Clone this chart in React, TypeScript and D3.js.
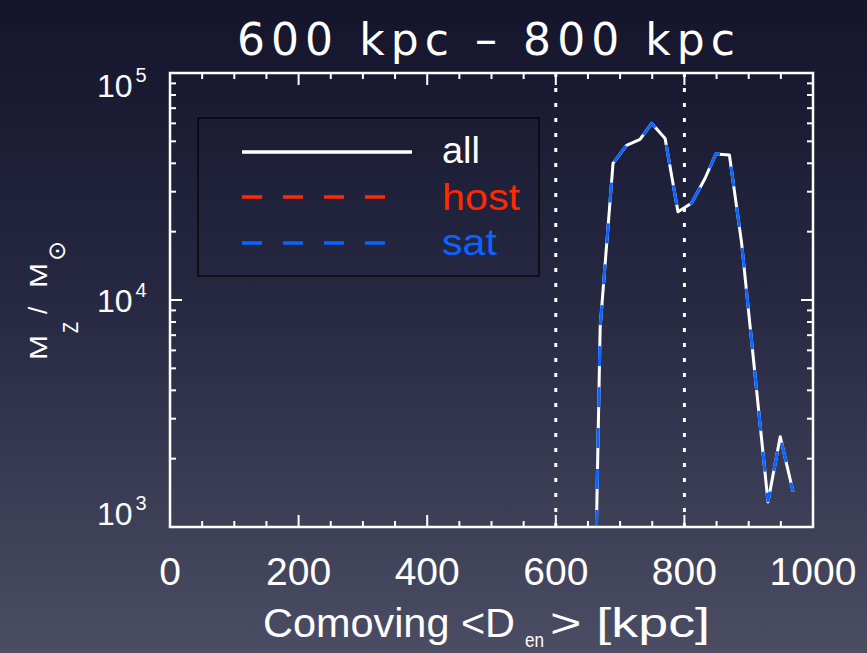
import React from "react";
import * as d3 from "d3";

const W = 867;
const H = 653;

// data
const distances = [650, 669, 689, 710, 731, 749, 770, 790, 811, 832, 849, 870, 889, 930, 949, 969];
const allValues = [10, 7600, 40000, 48000, 51000, 60000, 51500, 24500, 26700, 34300, 44000, 43500, 17800, 1290, 2500, 1430];
const satValues = [10, 7600, 40000, 48000, 51000, 60000, 51500, 24500, 26700, 34300, 44000, 43500, 17800, 1290, 2500, 1430];
const markerLines = [600, 800];
const xTickLabels = [0, 200, 400, 600, 800, 1000];
const yDecades = [3, 4, 5];
const legendLabels = ["all", "host", "sat"];
const legendColors = ["#ffffff", "#ff2a00", "#0a64ff"];
const titleText = "600 kpc \u2013 800 kpc";

const FONT = "'Liberation Sans', Arial, sans-serif";

export default function App() {
  const x = d3.scaleLinear().domain([0, 1000]).range([170, 813]);
  const y = d3.scaleLog().domain([1e3, 1e5]).range([527, 73]);
  const [x0, x1] = x.range();
  const [yb, yt] = y.range();

  const allPts = distances.map((d, i) => ({ x: d, v: allValues[i] }));
  const satPts = distances.map((d, i) => ({ x: d, v: satValues[i] }));
  const line = d3
    .line<{ x: number; v: number }>()
    .x((d) => x(d.x))
    .y((d) => y(d.v));

  const xTicks = d3.range(0, 1001, 50);
  const yTicks: { v: number; major: boolean }[] = [];
  yDecades.forEach((e, i) => {
    const base = Math.pow(10, e);
    yTicks.push({ v: base, major: true });
    if (i < yDecades.length - 1) {
      for (let k = 2; k <= 9; k++) yTicks.push({ v: k * base, major: false });
    }
  });

  const majorLen = 12;
  const minorLen = 6;
  const axisW = 2.5;

  return (
    <svg
      width={W}
      height={H}
      style={{ position: "absolute", left: 0, top: 0, display: "block" }}
      fontFamily={FONT}
    >
      <defs>
        <linearGradient id="bg" x1="0" y1="0" x2="0" y2="1">
          <stop offset="0" stopColor="#14152b" />
          <stop offset="0.45" stopColor="#262842" />
          <stop offset="1" stopColor="#4b4d64" />
        </linearGradient>
        <clipPath id="plotClip">
          <rect x={x0} y={yt} width={x1 - x0} height={yb - yt} />
        </clipPath>
      </defs>
      <rect x={0} y={0} width={W} height={H} fill="url(#bg)" />

      {/* title */}
      <text
        x={237}
        y={55}
        fontSize={44}
        fill="#fff"
        fontFamily="'DejaVu Sans', sans-serif"
        textLength={498}
        lengthAdjust="spacing"
      >
        {titleText}
      </text>

      {/* dotted marker lines */}
      {markerLines.map((m) => (
        <line
          key={m}
          x1={x(m)}
          x2={x(m)}
          y1={yt}
          y2={yb}
          stroke="#fff"
          strokeWidth={3}
          strokeDasharray="4,11"
        />
      ))}

      {/* legend */}
      <rect x={198} y={118} width={341} height={158} fill="none" stroke="#000" strokeWidth={1.2} />
      {legendLabels.map((lab, i) => {
        const ly = [152, 197, 243][i];
        const ty = [163, 210, 255][i];
        const tl = [38, 78, 55][i];
        return (
          <g key={lab}>
            <line
              x1={242}
              x2={i === 0 ? 412 : 392}
              y1={ly}
              y2={ly}
              stroke={legendColors[i]}
              strokeWidth={3.5}
              strokeDasharray={i === 0 ? undefined : "20,21"}
            />
            <text
              x={442}
              y={ty}
              fontSize={36}
              fill={legendColors[i]}
              textLength={tl}
              lengthAdjust="spacingAndGlyphs"
            >
              {lab}
            </text>
          </g>
        );
      })}

      {/* data */}
      <g clipPath="url(#plotClip)">
        <path d={line(allPts) || ""} fill="none" stroke="#fff" strokeWidth={3} strokeLinejoin="round" />
        <path
          d={line(satPts) || ""}
          fill="none"
          stroke={legendColors[2]}
          strokeWidth={3}
          strokeDasharray="20,21"
        />
      </g>

      {/* axes box */}
      <rect x={x0} y={yt} width={x1 - x0} height={yb - yt} fill="none" stroke="#fff" strokeWidth={axisW} />
      {xTicks.map((t) => {
        const len = t % 200 === 0 ? majorLen : minorLen;
        return (
          <g key={"xt" + t}>
            <line x1={x(t)} x2={x(t)} y1={yb} y2={yb - len} stroke="#fff" strokeWidth={2} />
            <line x1={x(t)} x2={x(t)} y1={yt} y2={yt + len} stroke="#fff" strokeWidth={2} />
          </g>
        );
      })}
      {yTicks.map((t, i) => {
        const len = t.major ? majorLen : minorLen;
        return (
          <g key={"yt" + i}>
            <line x1={x0} x2={x0 + len} y1={y(t.v)} y2={y(t.v)} stroke="#fff" strokeWidth={2} />
            <line x1={x1} x2={x1 - len} y1={y(t.v)} y2={y(t.v)} stroke="#fff" strokeWidth={2} />
          </g>
        );
      })}

      {/* x tick labels */}
      {xTickLabels.map((t) => (
        <text key={"xl" + t} x={x(t)} y={585} fontSize={39} fill="#fff" textAnchor="middle">
          {t}
        </text>
      ))}

      {/* y tick labels */}
      {yDecades.map((e) => {
        const py = Math.min(Math.max(y(Math.pow(10, e)) + 12, yt + 24), yb - 2);
        return (
          <text key={"yl" + e} x={97} y={py} fontSize={32} fill="#fff">
            10
            <tspan fontSize={20} dx={3} dy={-15}>
              {e}
            </tspan>
          </text>
        );
      })}

      {/* x axis label */}
      <text x={263} y={637} fontSize={40} fill="#fff" textLength={252} lengthAdjust="spacingAndGlyphs">
        Comoving &lt;D
      </text>
      <text x={525} y={647} fontSize={21} fill="#fff" textLength={19} lengthAdjust="spacingAndGlyphs">
        en
      </text>
      <text x={550} y={637} fontSize={40} fill="#fff" textLength={160} lengthAdjust="spacingAndGlyphs">
        &gt; [kpc]
      </text>

      {/* y axis label */}
      <g transform="translate(47,360) rotate(-90)" fill="#fff">
        <text x={0} y={0} fontSize={24} textLength={25} lengthAdjust="spacingAndGlyphs">
          M
        </text>
        <text x={27} y={31} fontSize={22} textLength={11} lengthAdjust="spacingAndGlyphs">
          Z
        </text>
        <text x={46} y={0} fontSize={26}>
          /
        </text>
        <text x={72} y={0} fontSize={24} textLength={25} lengthAdjust="spacingAndGlyphs">
          M
        </text>
        <text x={99} y={18} fontSize={24} fontFamily="'DejaVu Sans', sans-serif">
          {"\u2299"}
        </text>
      </g>
    </svg>
  );
}
